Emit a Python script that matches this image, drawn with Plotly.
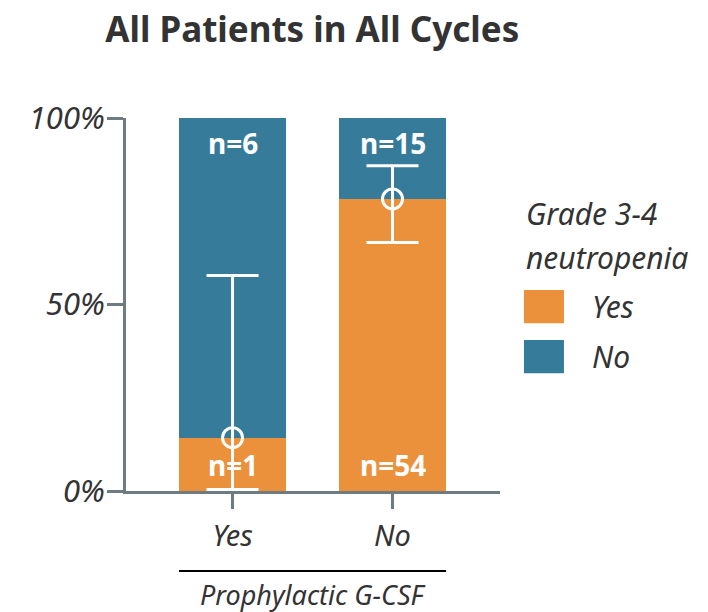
import plotly.graph_objects as go

# data
gcsf = ["Yes", "No"]
pct_neutro_yes = [14.3, 78.3]
pct_neutro_no = [85.7, 21.7]
n_neutro_yes = [1, 54]
n_neutro_no = [6, 15]
ci_low = [0.4, 66.6]
ci_high = [57.8, 87.2]
y_ticks = [0, 50, 100]

ORANGE = "#EC913B"
BLUE = "#367B99"
AXIS = "#6E7B80"
TXT = "#333333"
FONT = "Noto Sans"

xpos = list(range(len(gcsf)))

fig = go.Figure(
    data=[
        go.Bar(x=xpos, y=pct_neutro_yes, marker_color=ORANGE, width=0.67,
               name="Yes", marker_line_width=0),
        go.Bar(x=xpos, y=pct_neutro_no, marker_color=BLUE, width=0.67,
               name="No", marker_line_width=0),
        go.Scatter(
            x=xpos, y=pct_neutro_yes, mode="markers",
            marker=dict(symbol="circle-open", size=20, color="white",
                        line=dict(width=3, color="white")),
            error_y=dict(
                type="data", symmetric=False,
                array=[h - p for h, p in zip(ci_high, pct_neutro_yes)],
                arrayminus=[p - l for p, l in zip(pct_neutro_yes, ci_low)],
                color="white", thickness=3, width=26,
            ),
            cliponaxis=False,
        ),
    ],
    layout=go.Layout(
        width=708,
        height=612,
        barmode="stack",
        showlegend=False,
        plot_bgcolor="white",
        paper_bgcolor="white",
        margin=dict(l=126, r=208, t=118, b=121),
        title=dict(
            text="<b>All Patients in All Cycles</b>",
            x=0.441, xanchor="center", y=0.952, yanchor="middle",
            font=dict(family=FONT, size=35, color=TXT),
        ),
        xaxis=dict(
            range=[-0.666, 1.672],
            tickvals=xpos, ticktext=gcsf,
            showgrid=False, zeroline=False,
            showline=True, linecolor=AXIS, linewidth=3,
            ticks="outside", ticklen=15, tickwidth=3, tickcolor=AXIS,
            ticklabelstandoff=2,
            tickfont=dict(family=FONT, size=29, color=TXT, style="italic"),
        ),
        yaxis=dict(
            range=[0, 100],
            tickvals=y_ticks, ticktext=[f"{v}%" for v in y_ticks],
            showgrid=False, zeroline=False,
            showline=True, linecolor=AXIS, linewidth=3,
            ticks="outside", ticklen=16, tickwidth=3, tickcolor=AXIS,
            ticklabelstandoff=-4,
            tickfont=dict(family=FONT, size=31, color=TXT, style="italic"),
        ),
    ),
)

# n labels inside the bars
for i in xpos:
    fig.add_annotation(x=i, y=93.3, text=f"<b>n={n_neutro_no[i]}</b>", showarrow=False,
                       font=dict(family=FONT, size=28, color="white"))
    fig.add_annotation(x=i, y=7, text=f"<b>n={n_neutro_yes[i]}</b>", showarrow=False,
                       font=dict(family=FONT, size=28, color="white"))

# x-axis group title with rule
fig.add_shape(type="line", xref="x", yref="paper", x0=-0.335, x1=1.335,
              y0=-0.2145, y1=-0.2145, line=dict(color="black", width=2))
fig.add_annotation(xref="x", yref="paper", x=0.5, y=-0.277, text="Prophylactic G-CSF",
                   showarrow=False, yanchor="middle",
                   font=dict(family=FONT, size=27, color=TXT, style="italic"))

# legend drawn by hand
fig.add_annotation(xref="paper", yref="paper", x=1.064, y=0.745, text="Grade 3-4",
                   xanchor="left", yanchor="middle", showarrow=False,
                   font=dict(family=FONT, size=30, color=TXT, style="italic"))
fig.add_annotation(xref="paper", yref="paper", x=1.064, y=0.625, text="neutropenia",
                   xanchor="left", yanchor="middle", showarrow=False,
                   font=dict(family=FONT, size=30, color=TXT, style="italic"))
for label, color, y0, y1 in [("Yes", ORANGE, 0.450, 0.539), ("No", BLUE, 0.316, 0.405)]:
    fig.add_shape(type="rect", xref="paper", yref="paper", x0=1.064, x1=1.171,
                  y0=y0, y1=y1, fillcolor=color, line_width=0)
    fig.add_annotation(xref="paper", yref="paper", x=1.241, y=(y0 + y1) / 2, text=label,
                       xanchor="left", yanchor="middle", showarrow=False,
                       font=dict(family=FONT, size=30, color=TXT, style="italic"))

# drop the page's default body margin so the figure sits at the window corner
fig.write_html("out.html", config={"displayModeBar": False},
               post_script="document.body.style.margin='0';")
